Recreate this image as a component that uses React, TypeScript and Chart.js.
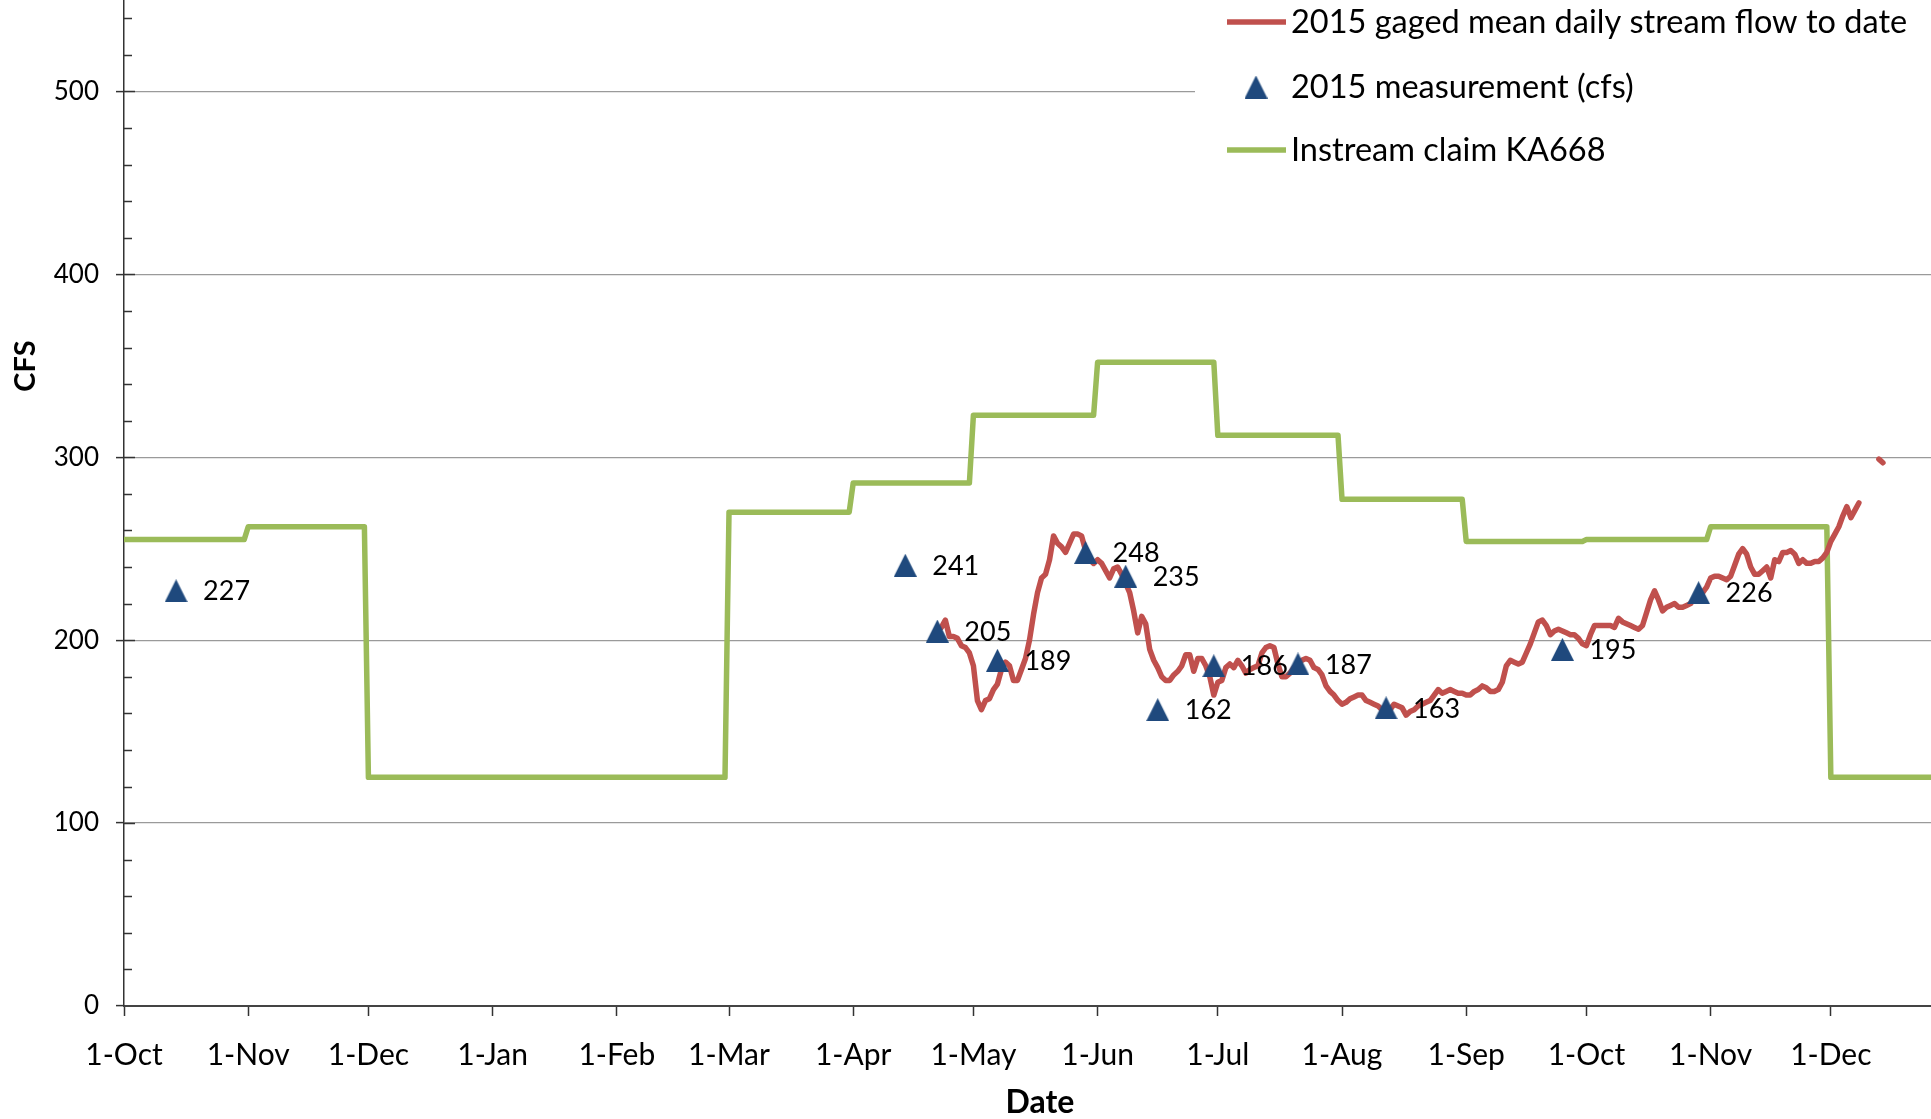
import React, { useEffect, useRef } from 'react';
import { Chart, registerables } from 'chart.js';

Chart.register(...registerables);

// ---------- DATA ----------
const monthStarts = [
  '2014-10-01', '2014-11-01', '2014-12-01', '2015-01-01', '2015-02-01', '2015-03-01', '2015-04-01',
  '2015-05-01', '2015-06-01', '2015-07-01', '2015-08-01', '2015-09-01', '2015-10-01', '2015-11-01', '2015-12-01',
];
const monthLabels = [
  '1-Oct', '1-Nov', '1-Dec', '1-Jan', '1-Feb', '1-Mar', '1-Apr',
  '1-May', '1-Jun', '1-Jul', '1-Aug', '1-Sep', '1-Oct', '1-Nov', '1-Dec',
];
// Instream claim KA668, one value per month (starting at each monthStart)
const claimValues = [255, 262, 125, 125, 125, 270, 286, 323, 352, 312, 277, 254, 255, 262, 125];

// 2015 gaged mean daily stream flow, daily from flowStart (null = no data)
const flowStart = '2015-04-23';
const flowValues: (number | null)[] = [
  207, 211, 202, 202, 201, 197, 196, 193, 186, 167, 162, 167, 168, 173, 176, 184, 188,
  186, 178, 178, 184, 190, 200, 214, 226, 234, 236, 244, 257, 253, 251, 248, 253, 258,
  258, 257, 249, 244, 242, 244, 242, 238, 234, 239, 240, 236, 231, 226, 216, 204, 213,
  209, 195, 189, 185, 180, 178, 178, 181, 183, 186, 192, 192, 183, 190, 190, 186, 180,
  170, 177, 178, 185, 187, 185, 189, 186, 182, 184, 185, 186, 193, 196, 197, 196, 187,
  180, 180, 182, 185, 187, 189, 190, 189, 185, 184, 181, 175, 172, 170, 167, 165, 166,
  168, 169, 170, 170, 167, 166, 165, 164, 162, 162, 162, 165, 164, 163, 159, 161, 162,
  164, 165, 166, 167, 170, 173, 171, 172, 173, 172, 171, 171, 170, 170, 172, 173, 175,
  174, 172, 172, 173, 177, 186, 189, 188, 187, 188, 193, 198, 204, 210, 211, 208, 203,
  205, 206, 205, 204, 203, 203, 201, 198, 197, 203, 208, 208, 208, 208, 208, 207, 212,
  210, 209, 208, 207, 206, 208, 215, 222, 227, 222, 216, 218, 219, 220, 218, 218, 219,
  220, 223, 224, 226, 229, 234, 235, 235, 234, 233, 235, 241, 247, 250, 247, 240, 236,
  236, 238, 240, 234, 244, 243, 248, 248, 249, 247, 242, 244, 242, 242, 243, 243, 245,
  248, 254, 258, 262, 268, 273, 267, 271, 275, null, null, null, null, 299, 297,
];

// 2015 measurements (cfs)
const measDates = [
  '2014-10-14', '2015-04-14', '2015-04-22', '2015-05-07', '2015-05-29', '2015-06-08',
  '2015-06-16', '2015-06-30', '2015-07-21', '2015-08-12', '2015-09-25', '2015-10-29',
];
const measValues = [227, 241, 205, 189, 248, 235, 162, 186, 187, 163, 195, 226];

const yTicks = [0, 100, 200, 300, 400, 500];
const axisStart = '2014-10-01';
const axisEnd = '2015-12-26';

// ---------- helpers ----------
const EPOCH = (() => {
  const [y, m, d] = axisStart.split('-').map(Number);
  return Date.UTC(y, m - 1, d);
})();
const dayOf = (s: string) => {
  const [y, m, d] = s.split('-').map(Number);
  return Math.round((Date.UTC(y, m - 1, d) - EPOCH) / 86400000);
};

const RED = '#C0504D';
const GREEN = '#9BBB59';
const BLUE = '#1F497D';
const FONT = 'Lato, "Open Sans", sans-serif';

function makeTriangle(size: number) {
  const c = document.createElement('canvas');
  c.width = size;
  c.height = size;
  const g = c.getContext('2d')!;
  g.fillStyle = BLUE;
  g.beginPath();
  g.moveTo(size / 2, 0);
  g.lineTo(size, size);
  g.lineTo(0, size);
  g.closePath();
  g.fill();
  return c;
}

export default function App() {
  const ref = useRef<HTMLCanvasElement | null>(null);

  useEffect(() => {
    let chart: Chart | null = null;
    let cancelled = false;

    const build = () => {
      if (cancelled || !ref.current) return;
      const tri = makeTriangle(23);
      const starts = monthStarts.map(dayOf);
      const endDay = dayOf(axisEnd);

      const claimPts: { x: number; y: number }[] = [];
      claimValues.forEach((v, i) => {
        const s = starts[i];
        const e = i + 1 < starts.length ? starts[i + 1] - 1 : endDay;
        claimPts.push({ x: s, y: v }, { x: e, y: v });
      });
      const f0 = dayOf(flowStart);
      const flowPts = flowValues.map((v, i) => ({ x: f0 + i, y: v }));
      const measPts = measDates.map((d, i) => ({ x: dayOf(d), y: measValues[i] }));

      const decor = {
        id: 'decor',
        beforeDatasetsDraw(c: any) {
          const { ctx, chartArea, scales } = c;
          const y = scales.y;
          ctx.save();
          // white legend box hiding gridline
          ctx.fillStyle = '#ffffff';
          ctx.fillRect(1195, 0, 736, 190);
          // inner ticks on y axis (minor every 20, major inner part)
          ctx.strokeStyle = '#333';
          ctx.lineWidth = 1.5;
          for (let v = 20; v <= 540; v += 20) {
            const py = Math.round(y.getPixelForValue(v)) + 0.5;
            const len = v % 100 === 0 ? 11 : 8;
            ctx.beginPath();
            ctx.moveTo(chartArea.left, py);
            ctx.lineTo(chartArea.left + len, py);
            ctx.stroke();
          }
          ctx.restore();
        },
        afterDatasetsDraw(c: any) {
          const { ctx } = c;
          const meta = c.getDatasetMeta(2);
          ctx.save();
          ctx.fillStyle = '#000';
          ctx.font = `27px ${FONT}`;
          ctx.textAlign = 'left';
          ctx.textBaseline = 'middle';
          meta.data.forEach((el: any, i: number) => {
            ctx.fillText(String(measValues[i]), el.x + 27, el.y + 1);
          });
          ctx.restore();
        },
        afterDraw(c: any) {
          const { ctx } = c;
          ctx.save();
          // axis titles
          ctx.fillStyle = '#000';
          ctx.textAlign = 'center';
          ctx.textBaseline = 'middle';
          ctx.font = `bold 32px ${FONT}`;
          ctx.fillText('Date', 1040, 1103);
          ctx.save();
          ctx.translate(26, 366);
          ctx.rotate(-Math.PI / 2);
          ctx.font = `bold 29px ${FONT}`;
          ctx.fillText('CFS', 0, 0);
          ctx.restore();
          // legend
          ctx.lineWidth = 5.5;
          ctx.lineCap = 'butt';
          ctx.strokeStyle = RED;
          ctx.beginPath();
          ctx.moveTo(1227, 22);
          ctx.lineTo(1286, 22);
          ctx.stroke();
          ctx.drawImage(tri, 1256 - 11.5, 87 - 11.5);
          ctx.strokeStyle = GREEN;
          ctx.beginPath();
          ctx.moveTo(1227, 150);
          ctx.lineTo(1286, 150);
          ctx.stroke();
          ctx.font = `32.5px ${FONT}`;
          ctx.textAlign = 'left';
          ctx.fillText('2015 gaged mean daily stream flow to date', 1291, 23);
          ctx.fillText('2015 measurement (cfs)', 1291, 88);
          ctx.fillText('Instream claim KA668', 1291, 151);
          ctx.restore();
        },
      };

      chart = new Chart(ref.current, {
        type: 'line',
        data: {
          datasets: [
            {
              label: 'Instream claim KA668',
              data: claimPts,
              borderColor: GREEN,
              borderWidth: 5.5,
              pointRadius: 0,
              tension: 0,
              order: 3,
              borderJoinStyle: 'round',
            } as any,
            {
              label: '2015 gaged mean daily stream flow to date',
              data: flowPts,
              borderColor: RED,
              borderWidth: 5.5,
              pointRadius: 0,
              tension: 0,
              spanGaps: false,
              order: 2,
              borderJoinStyle: 'round',
              borderCapStyle: 'round',
            } as any,
            {
              label: '2015 measurement (cfs)',
              data: measPts,
              showLine: false,
              pointStyle: tri,
              pointRadius: 11,
              borderWidth: 0,
              order: 1,
            } as any,
          ],
        },
        options: {
          animation: false,
          responsive: false,
          devicePixelRatio: 1,
          layout: { padding: 0, autoPadding: false },
          events: [],
          plugins: {
            legend: { display: false },
            tooltip: { enabled: false },
          },
          scales: {
            x: {
              type: 'linear',
              min: 0,
              max: endDay,
              afterBuildTicks: (s: any) => {
                s.ticks = starts.map((v) => ({ value: v }));
              },
              afterFit: (s: any) => {
                s.height = 113;
                s.paddingLeft = 0;
                s.paddingRight = 0;
              },
              ticks: {
                autoSkip: false,
                maxRotation: 0,
                minRotation: 0,
                padding: 21,
                color: '#000',
                font: { family: FONT, size: 30 },
                callback: (v: any) => {
                  const i = starts.indexOf(Number(v));
                  return i >= 0 ? monthLabels[i] : '';
                },
              },
              grid: {
                drawOnChartArea: false,
                drawTicks: true,
                tickLength: 10,
                tickColor: '#333',
                tickWidth: 1.5,
              },
              border: { color: '#444', width: 2 },
            },
            y: {
              type: 'linear',
              min: 0,
              max: 550,
              afterBuildTicks: (s: any) => {
                s.ticks = yTicks.map((v) => ({ value: v }));
              },
              afterFit: (s: any) => {
                s.width = 124;
                s.paddingTop = 0;
                s.paddingBottom = 0;
              },
              ticks: {
                padding: 17,
                color: '#000',
                font: { family: FONT, size: 26 },
              },
              grid: {
                color: (ctx: any) => (ctx.tick && ctx.tick.value === 0 ? 'rgba(0,0,0,0)' : '#9a9a9a'),
                lineWidth: 1.2,
                drawTicks: true,
                tickLength: 8,
                tickColor: '#333',
                tickWidth: 1.5,
              },
              border: { color: '#333', width: 1.5 },
            },
          },
        } as any,
        plugins: [decor],
      });
    };

    const fonts = (document as any).fonts;
    if (fonts && fonts.load) {
      Promise.all([
        fonts.load(`25px Lato`),
        fonts.load(`bold 30px Lato`),
      ]).then(build, build);
    } else {
      build();
    }

    return () => {
      cancelled = true;
      if (chart) chart.destroy();
    };
  }, []);

  return (
    <div style={{ position: 'fixed', left: 0, top: 0, width: 1931, height: 1119, background: '#fff' }}>
      <canvas ref={ref} width={1931} height={1119} style={{ display: 'block', width: 1931, height: 1119 }} />
    </div>
  );
}
